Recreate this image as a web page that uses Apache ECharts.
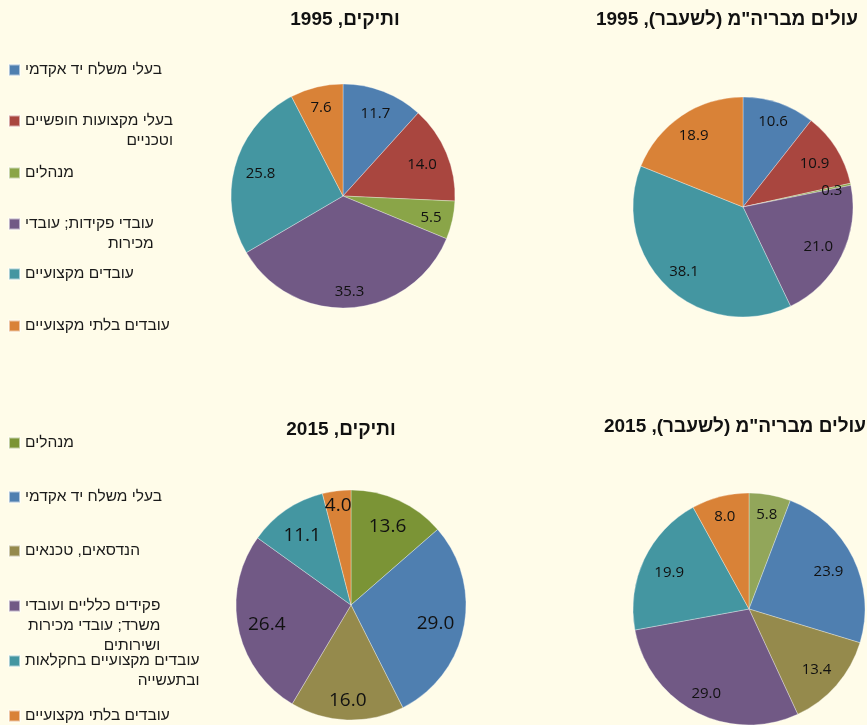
<!DOCTYPE html>
<html>
<head>
<meta charset="utf-8">
<script src="https://cdn.jsdelivr.net/npm/echarts@6/dist/echarts.min.js"></script>
<style>
html,body{margin:0;padding:0;background:#FFFCE9;}
#c{width:867px;height:725px;}
</style>
</head>
<body>
<div id="c" dir="rtl"></div>
<script>
// ---------- DATA ----------
const topLegendLines = [
  ['בעלי משלח יד אקדמי'],
  ['בעלי מקצועות חופשיים', 'וטכניים'],
  ['מנהלים'],
  ['עובדי פקידות; עובדי', 'מכירות'],
  ['עובדים מקצועיים'],
  ['עובדים בלתי מקצועיים']
];
const bottomLegendLines = [
  ['מנהלים'],
  ['בעלי משלח יד אקדמי'],
  ['הנדסאים, טכנאים'],
  ['פקידים כלליים ועובדי', 'משרד; עובדי מכירות', 'ושירותים'],
  ['עובדים מקצועיים בחקלאות', 'ובתעשייה'],
  ['עובדים בלתי מקצועיים']
];
const veterans1995 = [11.7, 14.0, 5.5, 35.3, 25.8, 7.6];
const immigrants1995 = [10.6, 10.9, 0.3, 21.0, 38.1, 18.9];
const veterans2015 = [13.6, 29.0, 16.0, 26.4, 11.1, 4.0];
const immigrants2015 = [5.8, 23.9, 13.4, 29.0, 19.9, 8.0];
const chartTitles = [
  'ותיקים, 1995',
  'עולים מבריה"מ (לשעבר), 1995',
  'ותיקים, 2015',
  'עולים מבריה"מ (לשעבר), 2015'
];

// ---------- STYLE / LAYOUT ----------
const topColors = ['#4F7FB0', '#A9463F', '#8AA548', '#715985', '#4496A1', '#D98237'];
const bottomLeftColors = ['#7B9436', '#4F7FB0', '#958A4C', '#715985', '#4496A1', '#D98237'];
const bottomRightColors = ['#92A65A', '#4F7FB0', '#958A4C', '#715985', '#4496A1', '#D98237'];
const bottomLegendColors = bottomLeftColors;

// label placement model (Excel-like "inside end"): d = r - m - (w/2 + cA)|ux| - B|uy|
const pieLayouts = [
  {center: [343, 196], r: 112, font: 15, m: 10, cA: 0, B: 7},
  {center: [743, 207], r: 110, font: 15, m: 5, cA: 5, B: 7},
  {center: [351, 605], r: 115, font: 19, m: 11, cA: -2.5, B: 10},
  {center: [749, 609], r: 116, font: 15, m: 8.5, cA: 3, B: 7}
];
const LABEL_DY = 2;
const titlePos = [[345, 20], [727, 20], [341, 430], [735, 427]];
const topLegendY = [70, 121, 173, 224, 274, 326];
const bottomLegendY = [443, 497, 551, 606, 661, 716];
const LH = 20;
const LEGEND_FS = 15.5;
const FONT = '"Liberation Sans", Arial, sans-serif';

const topNames = topLegendLines.map(l => l.join(' '));
const bottomNames = bottomLegendLines.map(l => l.join(' '));

function pieSeries(idx, names, values, colors) {
  const L = pieLayouts[idx];
  const total = values.reduce((a, b) => a + b, 0);
  const cum = [];
  values.reduce((acc, v, i) => { cum[i] = acc; return acc + v; }, 0);
  return {
    type: 'pie',
    center: L.center,
    radius: L.r,
    startAngle: 90,
    clockwise: true,
    animation: false,
    data: values.map((v, i) => ({
      name: names[i], value: v,
      itemStyle: {color: colors[i]}
    })),
    itemStyle: {borderColor: 'rgba(255,255,255,0.55)', borderWidth: 0.6},
    label: {
      show: true,
      position: 'inside',
      formatter: p => p.value.toFixed(1),
      color: '#111',
      fontSize: L.font,
      fontFamily: '"Open Sans", sans-serif'
    },
    labelLine: {show: false},
    emphasis: {scale: false},
    labelLayout: function (params) {
      const i = params.dataIndex;
      const rc = params.labelRect;
      const lx = rc.x + rc.width / 2, ly = rc.y + rc.height / 2;
      const frac = (cum[i] + values[i] / 2) / total;
      const th = frac * 2 * Math.PI;
      const ux = Math.sin(th), uy = -Math.cos(th);
      const w = rc.width, h = L.font * 0.72;
      let d = L.r - L.m - (w / 2 + L.cA) * Math.abs(ux) - L.B * Math.abs(uy);
      // narrow slices: push outward so label fits between slice edges
      const phi = Math.PI * values[i] / total;
      const e = (w / 2) * Math.abs(uy) + (h / 2) * Math.abs(ux);
      const dMin = e / Math.max(Math.sin(phi), 1e-4);
      const dMax = L.r - 0.5 * (w * Math.abs(ux) + h * Math.abs(uy)) - 4 - 4 * Math.abs(ux);
      if (dMin > d) d = Math.max(d, Math.min(dMin, dMax));
      const tx = L.center[0] + d * ux, ty = L.center[1] + d * uy + LABEL_DY;
      return {dx: tx - lx, dy: ty - ly};
    }
  };
}

function makeLegend(lines, y, color) {
  const n = lines.length;
  const textH = (2 * n - 1) * LH;
  const name = lines.join(' ');
  return {
    data: [{name: name, itemStyle: {color: color}}],
    left: 8,
    top: y - textH / 2,
    padding: 0,
    orient: 'vertical',
    icon: 'rect',
    itemWidth: 11,
    itemHeight: 11,
    formatter: () => lines.map(s => '{r|' + s + '}').join('\n'),
    textStyle: {
      color: '#1a1a1a',
      fontSize: LEGEND_FS,
      fontFamily: FONT,
      lineHeight: LH,
      padding: [(n - 1) * LH, 0, 0, 0],
      rich: {r: {align: 'right', fontSize: LEGEND_FS, fontFamily: FONT, lineHeight: LH, color: '#1a1a1a'}}
    }
  };
}

const legends = [];
topLegendLines.forEach((l, i) => legends.push(makeLegend(l, topLegendY[i], topColors[i])));
bottomLegendLines.forEach((l, i) => legends.push(makeLegend(l, bottomLegendY[i], bottomLegendColors[i])));

const chart = echarts.init(document.getElementById('c'), null, {renderer: 'canvas'});
chart.setOption({
  backgroundColor: '#FFFCE9',
  animation: false,
  legend: legends,
  graphic: chartTitles.map((t, i) => ({
    type: 'text',
    x: titlePos[i][0], y: titlePos[i][1],
    style: {
      text: t, fill: '#111', font: 'bold 19px ' + FONT,
      textAlign: 'center', textVerticalAlign: 'middle'
    }
  })),
  series: [
    pieSeries(0, topNames, veterans1995, topColors),
    pieSeries(1, topNames, immigrants1995, topColors),
    pieSeries(2, bottomNames, veterans2015, bottomLeftColors),
    pieSeries(3, bottomNames, immigrants2015, bottomRightColors)
  ]
});
</script>
</body>
</html>
